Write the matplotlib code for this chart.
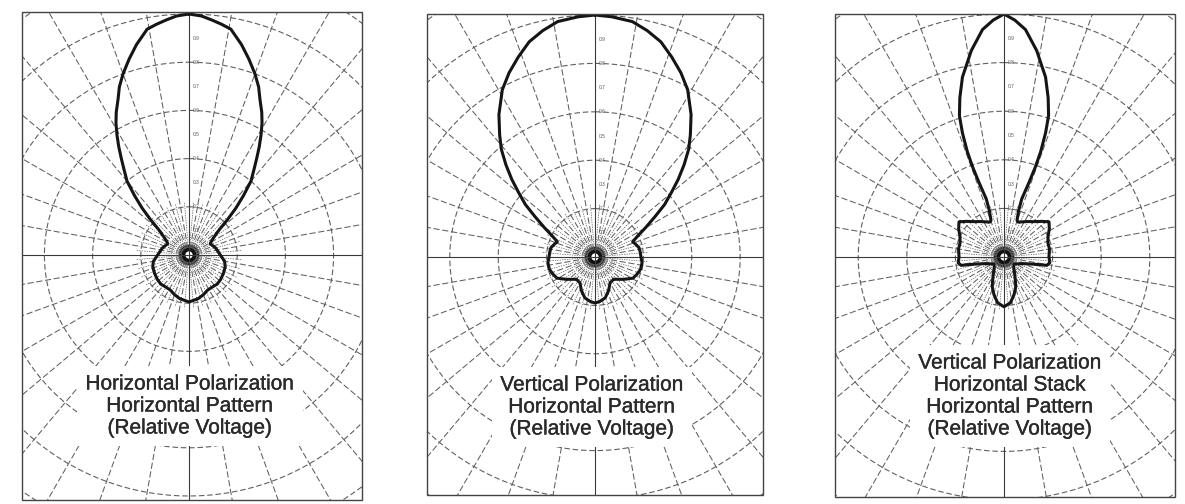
import numpy as np
import matplotlib
matplotlib.use("Agg")
import matplotlib.pyplot as plt
from matplotlib.patches import Rectangle
from matplotlib.transforms import offset_copy
import matplotlib.patheffects as pe

W, H = 1185, 504

# ---------------- data (half patterns, angle in degrees from boresight, relative voltage) -------------
p1_ang = [0, 3, 5.5, 8, 10.5, 14, 17, 20, 22.5, 24.5, 27, 29, 31, 33, 35, 37, 40, 42.5, 45, 47.5, 50,
          54, 58, 62, 68, 76, 90, 100, 108, 118, 128, 136, 145, 152, 160, 168, 180]
p1_r = [1.0, .993, .98, .967, .953, .90, .85, .80, .755, .71, .665, .625, .58, .535, .49, .45, .40, .335,
        .275, .215, .165, .13, .11, .10, .105, .115, .13, .15, .158, .162, .166, .168, .164, .165, .175, .185, .195]

p2_ang = [0, 4, 9, 13, 17, 21, 25, 29, 34, 38, 41, 44, 47, 50, 53, 56, 60, 64, 68, 72, 78, 84, 90, 97,
          105, 112, 119, 128, 140, 150, 158, 166, 174, 180]
p2_r = [1.0, .995, .985, .96, .93, .885, .84, .79, .71, .64, .59, .53, .47, .41, .36, .30, .24, .195, .168,
        .175, .186, .188, .19, .196, .195, .188, .18, .15, .12, .124, .15, .174, .185, .19]

p3_ang = [0, 2.6, 5.4, 9, 13, 15.5, 17.5, 18.5, 19.2, 19.2, 18.5, 17, 17.5, 19.5, 22, 27, 33, 40, 47, 52,
          58, 65, 72, 80, 90, 97, 101, 104, 110, 125, 138, 150, 158, 165, 172, 180]
p3_r = [1.0, .976, .94, .86, .76, .68, .61, .54, .46, .39, .32, .25, .20, .16, .155, .162, .174, .19, .215,
        .235, .22, .20, .19, .19, .185, .19, .18, .12, .08, .05, .06, .09, .13, .16, .19, .205]

titles = [
    "Horizontal Polarization\nHorizontal Pattern\n(Relative Voltage)",
    "Vertical Polarization\nHorizontal Pattern\n(Relative Voltage)",
    "Vertical Polarization\nHorizontal Stack\nHorizontal Pattern\n(Relative Voltage)",
]
ring_radii = [0.2, 0.4, 0.6, 0.8, 1.0, 1.2]
axis_labels = ["0.1", "0.2", "0.3", "0.4", "0.5", "0.6", "0.7", "0.8", "0.9"]
axis_label_r = [0.1, 0.2, 0.3, 0.4, 0.5, 0.6, 0.7, 0.8, 0.9]

# ---------------- layout (pixels) ----------------
panels = [
    dict(cx=189, cy=255, R=241, box=(22, 12, 362, 500), text=(190, 406)),
    dict(cx=595, cy=257, R=242, box=(427, 14, 763, 495), text=(592, 407)),
    dict(cx=1004, cy=257, R=243, box=(835, 14, 1175, 497), text=(1010, 396)),
]
patterns = [(p1_ang, p1_r), (p2_ang, p2_r), (p3_ang, p3_r)]
RMAX = 1.3

plt.rcParams['font.family'] = ['Liberation Sans', 'DejaVu Sans']
fig = plt.figure(figsize=(W / 100, H / 100), dpi=100)
fig.patch.set_facecolor('white')

grid_col = '#606060'
for pi, (pan, (ang, rr)) in enumerate(zip(panels, patterns)):
    cx, cy, R = pan['cx'], pan['cy'], pan['R']
    size = 2 * RMAX * R
    ax = fig.add_axes([(cx - size / 2) / W, (H - cy - size / 2) / H, size / W, size / H],
                      projection='polar')
    ax.set_theta_zero_location('N')
    ax.set_theta_direction(-1)
    ax.set_rlim(0, RMAX)
    ax.patch.set_visible(False)
    ax.axis('off')

    th = np.linspace(0, 2 * np.pi, 721)
    # rings
    for r in ring_radii:
        ax.plot(th, np.full_like(th, r), color=grid_col, lw=0.8, ls=(0, (5, 2.5)))
    # radial lines every 10 deg
    for d in range(0, 360, 10):
        t = np.radians(d)
        if d % 90 == 0:
            ax.plot([t, t], [0.0, RMAX], color='#3a3a3a', lw=0.8)
        else:
            ax.plot([t, t], [0.03, RMAX], color=grid_col, lw=0.75, ls=(0, (6, 2.5)))
    # dense radial lines near centre
    for d in np.arange(5, 360, 10):
        t = np.radians(d)
        ax.plot([t, t], [0.03, 0.22], color=grid_col, lw=0.5, ls=(0, (2, 1.5)))
    # small axis labels
    trans = offset_copy(ax.transData, fig=fig, x=3.5, y=0, units='dots')
    for lab, r in zip(axis_labels, axis_label_r):
        ax.text(0, r, lab, transform=trans, fontsize=3.5, color='#555555',
                ha='left', va='center')

    # pattern (mirror half pattern)
    a = np.array(ang, dtype=float)
    r = np.array(rr, dtype=float)
    full_a = np.concatenate([a, (360 - a[::-1])])
    full_r = np.concatenate([r, r[::-1]])
    ax.plot(np.radians(full_a), full_r, color='#151515', lw=2.2,
            solid_joinstyle='round', solid_capstyle='round')

    # centre blob
    ax.fill(th, np.full_like(th, 0.042), color='#111111', lw=0)
    ax.fill(th, np.full_like(th, 0.015), color='white', lw=0)

    # clip everything to the paper rectangle
    l, t_, rgt, b = pan['box']
    clip = Rectangle((l / W, 1 - b / H), (rgt - l) / W, (b - t_) / H, transform=fig.transFigure)
    for art in ax.lines + ax.patches + ax.texts:
        art.set_clip_path(clip)

    # frame
    fig.add_artist(Rectangle((l / W, 1 - b / H), (rgt - l) / W, (b - t_) / H,
                             transform=fig.transFigure, fill=False, ec='#444444', lw=1.0))

    # caption
    tx, ty = pan['text']
    txt = fig.text(tx / W, 1 - ty / H, titles[pi], ha='center', va='center', fontsize=15,
                   color='#2a2a2a', linespacing=1.2,
                   bbox=dict(facecolor='white', edgecolor='none', pad=6))
    txt.set_path_effects([pe.withStroke(linewidth=0.25, foreground='#2a2a2a')])

fig.savefig('out.png', dpi=100, facecolor='white')
